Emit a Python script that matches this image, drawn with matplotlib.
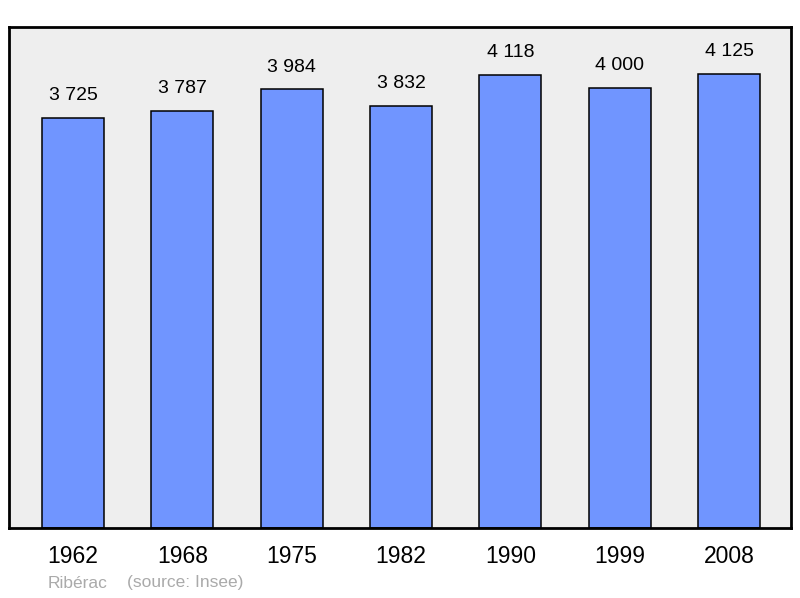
import matplotlib
matplotlib.use("Agg")
from matplotlib import pyplot as plt

plt.rcParams["font.family"] = ["Liberation Sans", "DejaVu Sans"]

YEARS = ["1962", "1968", "1975", "1982", "1990", "1999", "2008"]
POPULATION = [3725, 3787, 3984, 3832, 4118, 4000, 4125]
TOWN = "Ribérac"
SOURCE = "(source: Insee)"


def fmt(n):
  return f"{n:,}".replace(",", " ")


def main():
  fig = plt.figure(figsize=(8, 5.98), dpi=100)
  ax = fig.add_axes([9 / 800, 1 - 528 / 598, 782 / 800, 501 / 598])
  ax.set_facecolor("#eeeeee")

  x = list(range(len(YEARS)))
  ax.bar(x, POPULATION, width=0.567, color="#7095ff", edgecolor="black", linewidth=1.1, zorder=2)

  for xi, v in zip(x, POPULATION):
    ax.annotate(fmt(v), (xi, v), xytext=(0, 16), textcoords="offset points",
                ha="center", va="center", fontsize=14)

  ax.set_xlim(-0.585, 6.567)
  ax.set_ylim(0, 4551)
  ax.set_yticks([])
  ax.set_xticks(x)
  ax.set_xticklabels(YEARS, fontsize=16.5)
  ax.tick_params(axis="x", length=0, pad=12)
  for s in ax.spines.values():
    s.set_linewidth(2)

  fig.text(48 / 800, 1 - 583 / 598, TOWN, color="#aaaaaa", fontsize=12.5, va="center")
  fig.text(127 / 800, 1 - 583 / 598, SOURCE, color="#aaaaaa", fontsize=12.5, va="center")

  fig.savefig("out.png", dpi=100)


main()
